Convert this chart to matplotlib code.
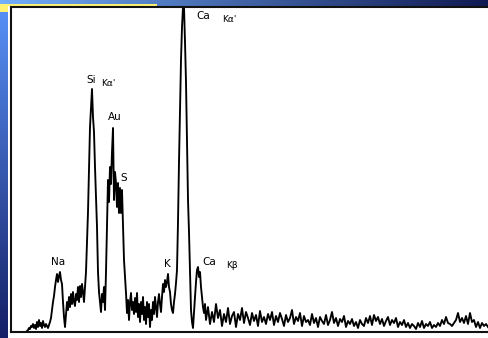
import numpy as np
import matplotlib
matplotlib.use("Agg")
import matplotlib.pyplot as plt

# ---- spectrum data (channel position, counts) ----
chan_a = list(range(27, 206))
counts_a = [1, 2, 4, 3, 6, 5, 8, 4, 7, 3, 10, 5, 12, 6, 9, 4, 11, 7, 5, 8, 6, 4, 7, 10,   # 27-50
            14, 22, 30, 36, 45, 52, 58, 50, 56, 60, 52, 48, 30, 15, 5,                       # 51-65
            18, 30, 22, 35, 25, 38, 28, 40, 30, 26, 38, 32, 45, 30, 46, 35, 48, 40, 30,      # 66-84
            45, 60, 90, 120, 165, 205, 225, 243, 215, 200, 165, 135, 105, 60, 40, 30,        # 85-100
            20, 38, 30, 45, 22, 60, 105, 152, 130, 165, 148, 180, 204, 132, 160, 149,        # 101-116
            125, 149, 119, 144, 119, 142, 105, 72, 55, 39, 19, 32, 12, 30, 39, 22,           # 117-132
            30, 18, 34, 20, 39, 15, 28, 10, 30, 18, 35, 12, 25, 8, 30, 15,                   # 133-148
            28, 5, 22, 12, 30, 18, 35, 25, 15, 30, 38, 28, 20, 35, 48, 40,                   # 149-164
            52, 45, 50, 58, 45, 40, 28, 22, 19, 30, 38, 49, 62, 110, 170, 220,               # 165-180
            272, 305, 325, 325, 290, 250, 190, 132, 100, 60, 22, 10, 4, 20, 35, 50,          # 181-196
            62, 65, 55, 60, 45, 35, 25, 19, 28]                                              # 197-205
chan_b = list(range(206, 490, 2))
counts_b = [12, 25, 8, 20, 10, 28, 14, 22, 6, 18, 10, 24, 8, 16, 20, 5, 18, 12, 24, 9,
            20, 14, 7, 19, 11, 17, 6, 21, 10, 15, 8, 18, 12, 20, 7, 16, 10, 19, 13, 6,
            17, 10, 14, 22, 8, 15, 11, 19, 6, 16, 10, 12, 7, 18, 9, 14, 5, 15, 11, 8,
            17, 7, 12, 20, 9, 14, 6, 13, 10, 16, 5, 11, 8, 13, 6, 10, 4, 12, 8, 6,
            14, 9, 16, 7, 17, 11, 15, 8, 13, 6, 11, 15, 7, 12, 9, 14, 5, 10, 7, 12,
            5, 9, 4, 8, 6, 3, 9, 5, 11, 4, 8, 6, 10, 4, 7, 5, 9, 6, 12, 8,
            15, 9, 8, 6, 9, 12, 19, 10, 14, 9, 16, 8, 19, 10, 12, 5, 10, 4, 9, 6,
            8, 5]
channels = chan_a + chan_b[:len(counts_b)]
counts = counts_a + counts_b

labels = [("Na", 58.5, 70, 7.5), ("Si", 91, 252, 7.5), ("Kα'", 108, 249, 6.5),
          ("Au", 115, 215, 7.5), ("S", 124, 154, 7.5), ("K", 167.5, 68, 7.5),
          ("Ca", 209, 70, 7.5), ("Kβ", 231.5, 66, 6.5),
          ("Ca", 203.5, 316, 7.5), ("Kα'", 229, 312, 6.5)]

W, H = 488, 338
fig = plt.figure(figsize=(W / 100, H / 100), dpi=100)

# background slide gradient
bg = np.ones((H, W, 3))
rows = np.linspace(0, 1, H)[:, None]
left_top = np.array([0.35, 0.58, 0.98])
left_bot = np.array([0.08, 0.12, 0.40])
strip = left_top * (1 - rows) + left_bot * rows
bg[:, :8, :] = strip[:, None, :]
cols = np.linspace(0, 1, W)[:, None]
top_l = np.array([0.45, 0.68, 0.98])
top_r = np.array([0.06, 0.10, 0.32])
topc = top_l * (1 - cols) + top_r * cols
bg[:6, :, :] = topc[None, :, :]
bg[4:6, :157, :] = np.array([1.0, 0.95, 0.45])
bg[4:12, :8, :] = np.array([1.0, 0.95, 0.45])
axbg = fig.add_axes([0, 0, 1, 1])
axbg.imshow(bg, aspect="auto", interpolation="nearest")
axbg.axis("off")

ax = fig.add_axes([11 / W, 6 / H, (W - 11) / W, (332 - 7) / H])
ax.set_facecolor("none")
ax.plot(channels, counts, color="black", lw=1.35)
ax.set_xlim(11, 488)
ax.set_ylim(0, 325)
ax.set_xticks([])
ax.set_yticks([])
for s in ["left", "top", "bottom"]:
    ax.spines[s].set_linewidth(1.5)
    ax.spines[s].set_color("#111111")
ax.spines["right"].set_visible(False)
for txt, x, y, fs in labels:
    ax.text(x, y, txt, fontsize=fs, ha="center", va="center", color="black")

fig.savefig("out.png", dpi=100)
